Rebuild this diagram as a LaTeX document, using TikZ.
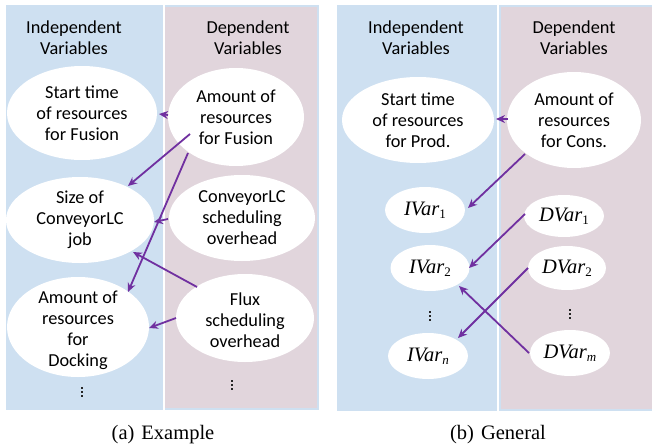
\documentclass[tikz,border=0pt]{standalone}
\usepackage{fontspec}
\setmainfont{Liberation Serif}
\newfontfamily\calfont{Carlito}
\usetikzlibrary{shapes.geometric,arrows.meta}
\definecolor{panelblue}{RGB}{206,224,241}
\definecolor{panelpink}{RGB}{225,213,220}
\definecolor{arrowpurple}{RGB}{112,48,160}
\newcommand{\vv}[2]{\textit{#1}\raisebox{-3pt}{\fontsize{13}{13}\selectfont #2}}
\begin{document}
\begin{tikzpicture}[x=1pt,y=-1pt,
  ell/.style={ellipse, fill=white, draw=none, inner sep=0pt},
  lbl/.style={align=center, font=\calfont\fontsize{18.3}{21}\selectfont, text=black, inner sep=0pt},
  mlbl/.style={font=\fontsize{20.5}{22}\selectfont, text=black, inner sep=0pt},
  arr/.style={draw=arrowpurple, line width=1.8pt, -{Stealth[length=9pt,width=8pt]}},
  captext/.style={font=\fontsize{20.5}{23}\selectfont, inner sep=0pt},
  dotmark/.style={fill=black!85, inner sep=0pt, minimum size=2.2pt, rectangle}]
\useasboundingbox (0,0) rectangle (652,447);
% panels
\fill[panelblue] (6,5) rectangle (319,410);
\fill[panelpink] (165,7) rectangle (317,408);
\fill[white] (163,5) rectangle (165,410);
\fill[panelblue] (337,5) rectangle (652,411);
\fill[panelpink] (501,7) rectangle (652,409);
\fill[white] (497,5) rectangle (499,411);
% headers
\node[lbl] (h1) at (74,38) {Independent\\Variables};
\node[lbl] (h2) at (248,38) {Dependent\\Variables};
\node[lbl] (h3) at (416,38) {Independent\\Variables};
\node[lbl] (h4) at (574,38) {Dependent\\Variables};
% left ellipses
\node[ell, minimum width=150pt, minimum height=94pt, label={[lbl]center:{Start time\\of resources\\for Fusion}}] (st) at (82,113) {};
\node[ell, minimum width=136pt, minimum height=98pt, label={[lbl]center:{Amount of\\resources\\for Fusion}}] (fa) at (236,117) {};
\node[ell, minimum width=148pt, minimum height=86pt, label={[lbl]center:{Size of\\ConveyorLC\\job}}] (sz) at (80,220) {};
\node[ell, minimum width=146pt, minimum height=86pt, label={[lbl]center:{ConveyorLC\\scheduling\\overhead}}] (co) at (242,218) {};
\node[ell, minimum width=142pt, minimum height=100pt, label={[lbl, yshift=-3pt]center:{Amount of\\resources\\for\\Docking}}] (dk) at (78,327) {};
\node[ell, minimum width=138pt, minimum height=88pt, label={[lbl, yshift=-2pt]center:{Flux\\scheduling\\overhead}}] (fx) at (245,318) {};
% vertical dots
\foreach \px/\py in {82/392, 232/385, 430/316, 570/314} {
  \foreach \k in {-4,0,4} \node[dotmark] at (\px,\py+\k) {};
}
% left arrows
\draw[arr] ([shift={(-68,-2)}]fa.center) -- ([shift={(77,1)}]st.center);
\draw[arr] ([shift={(-46,17)}]fa.center) -- ([shift={(48,-34)}]sz.center);
\draw[arr] ([shift={(-48,36)}]fa.center) -- ([shift={(50,-35)}]dk.center);
\draw[arr] ([shift={(-74,1)}]co.center) -- ([shift={(74,2)}]sz.center);
\draw[arr] ([shift={(-48,-31)}]fx.center) -- ([shift={(53,32)}]sz.center);
\draw[arr] ([shift={(-69,0)}]fx.center) -- ([shift={(71,1)}]dk.center);
% right ellipses
\node[ell, minimum width=152pt, minimum height=86pt, label={[lbl]center:{Start time\\of resources\\for Prod.}}] (sp) at (418,120) {};
\node[ell, minimum width=134pt, minimum height=96pt, label={[lbl]center:{Amount of\\resources\\for Cons.}}] (ac) at (574,120) {};
\node[ell, minimum width=80pt, minimum height=46pt, label={[mlbl]center:{\vv{IVar}{1}}}] (i1) at (425,210) {};
\node[ell, minimum width=80pt, minimum height=42pt, label={[mlbl]center:{\vv{DVar}{1}}}] (d1) at (564,216) {};
\node[ell, minimum width=79pt, minimum height=46pt, label={[mlbl]center:{\vv{IVar}{2}}}] (i2) at (430,268) {};
\node[ell, minimum width=78pt, minimum height=44pt, label={[mlbl]center:{\vv{DVar}{2}}}] (d2) at (567,268) {};
\node[ell, minimum width=80pt, minimum height=46pt, label={[mlbl]center:{\vv{IVar}{\textit{n}}}}] (in) at (428,356) {};
\node[ell, minimum width=80pt, minimum height=46pt, label={[mlbl]center:{\vv{DVar}{\textit{m}}}}] (dm) at (570,353) {};
% right arrows
\draw[arr] ([shift={(-66,-1)}]ac.center) -- ([shift={(78,-1)}]sp.center);
\draw[arr] ([shift={(-49,34)}]ac.center) -- ([shift={(43,-2)}]i1.center);
\draw[arr] ([shift={(-39,-2)}]d1.center) -- ([shift={(39,0)}]i2.center);
\draw[arr] ([shift={(-39,0)}]d2.center) -- ([shift={(30,-18)}]in.center);
\draw[arr] ([shift={(-41,0)}]dm.center) -- ([shift={(29,18)}]i2.center);
% captions
\node[captext] (ca) at (163,435) {(a)\hspace{7pt}Example};
\node[captext] (cb) at (498,435) {(b)\hspace{7pt}General};
\end{tikzpicture}
\end{document}
